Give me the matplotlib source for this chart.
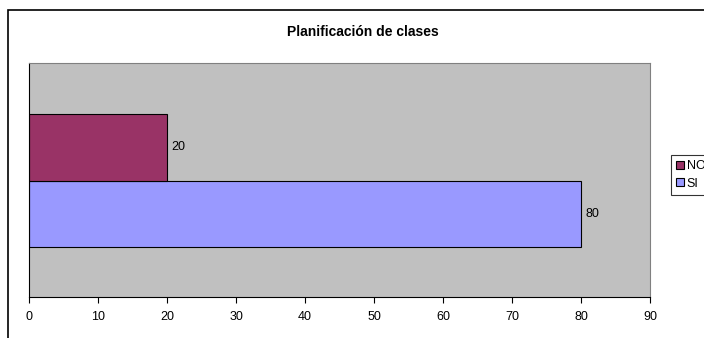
import matplotlib.pyplot as plt
from matplotlib.patches import Rectangle

# Datos
categorias = ['SI', 'NO']
valores = [80, 20]
colores = ['#9999FF', '#993366']
ticks_x = [0, 10, 20, 30, 40, 50, 60, 70, 80, 90]

plt.rcParams['font.family'] = ['Liberation Sans', 'DejaVu Sans']

fig = plt.figure(figsize=(7.04, 3.38), dpi=100)
fig.patch.set_facecolor('white')

# marco exterior del gráfico
fig.patches.append(Rectangle((8 / 704, -0.1), 1.0, (338 - 10) / 338 + 0.1,
                             transform=fig.transFigure, fill=False,
                             edgecolor='black', linewidth=1.2, zorder=0))

ax = fig.add_axes([29 / 704, 41 / 338, 621 / 704, 234 / 338])
ax.set_facecolor('#C0C0C0')

barras = []
for i, (cat, val, col) in enumerate(zip(categorias, valores, colores)):
    b = ax.barh(i, val, height=1.0, color=col, edgecolor='black',
                linewidth=0.8, label=cat)
    barras.append(b)
    ax.text(val + 0.6, i, str(val), va='center', ha='left', fontsize=9)

ax.set_xlim(0, 90)
ax.set_ylim(-1.25, 2.27)
ax.set_xticks(ticks_x)
ax.set_yticks([])
ax.tick_params(axis='x', direction='out', length=4, width=0.8,
               labelsize=9, pad=6)
for s in ['top', 'right']:
    ax.spines[s].set_color('#808080')
    ax.spines[s].set_linewidth(0.8)
for s in ['left', 'bottom']:
    ax.spines[s].set_color('black')
    ax.spines[s].set_linewidth(0.8)

fig.text(363 / 704, 1 - 32 / 338, 'Planificación de clases', ha='center',
         va='center', fontsize=10, fontweight='bold')

# leyenda (NO arriba, SI abajo)
handles = [barras[1], barras[0]]
leg = fig.legend(handles, ['NO', 'SI'], loc='upper left',
                 bbox_to_anchor=(671 / 704, 1 - 155 / 338),
                 fontsize=9, frameon=True, fancybox=False,
                 handlelength=0.6, handleheight=0.6, handletextpad=0.25,
                 borderpad=0.4, labelspacing=0.45, borderaxespad=0)
leg.get_frame().set_edgecolor('black')
leg.get_frame().set_linewidth(0.8)

fig.savefig('out.png', dpi=100)
